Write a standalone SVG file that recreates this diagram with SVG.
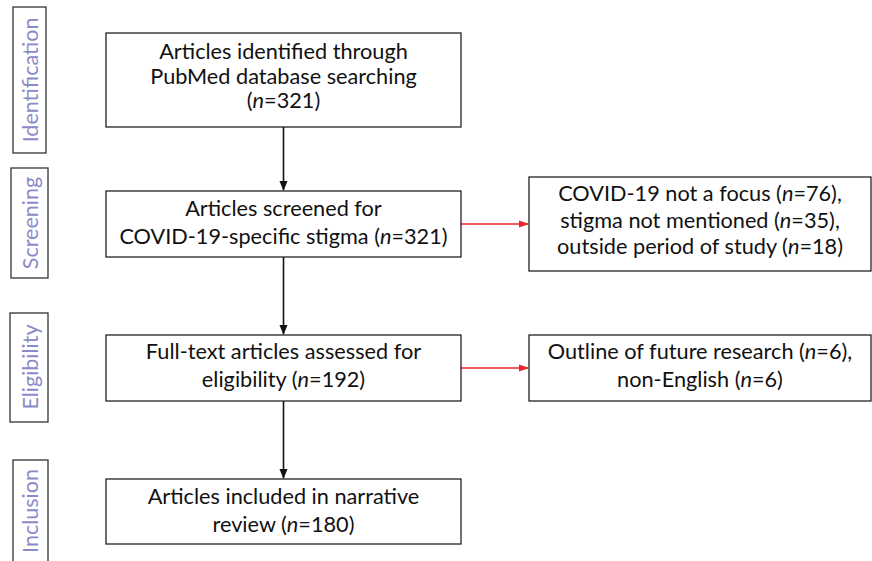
<svg xmlns="http://www.w3.org/2000/svg" width="872" height="561" viewBox="0 0 872 561">
<style>
.box{fill:#fff;stroke:#222;stroke-width:1.3}
.side{fill:#fff;stroke:#333;stroke-width:1.3}
.t{font-family:Lato,"Open Sans",sans-serif;font-size:21.7px;fill:#111;text-anchor:middle}
.s{font-family:Lato,"Open Sans",sans-serif;font-size:21.5px;fill:#8a8ac8;text-anchor:middle}
.i{font-style:italic}
.blk{stroke:#111;stroke-width:1.6;fill:none}
.red{stroke:#e8262a;stroke-width:1.6;fill:none}
</style>
<defs>
<marker id="ab" markerWidth="10" markerHeight="10" refX="9" refY="5" orient="auto" markerUnits="userSpaceOnUse"><path d="M0,1 L10,5 L0,9 Z" fill="#111"/></marker>
<marker id="ar" markerWidth="10" markerHeight="10" refX="9" refY="5" orient="auto" markerUnits="userSpaceOnUse"><path d="M0,1.5 L10,5 L0,8.5 Z" fill="#e8262a"/></marker>
</defs>
<g id="stage-identification"><rect class="side" x="13" y="7" width="33" height="146"/><text class="s" transform="translate(37.5,80) rotate(-90)">Identification</text></g>
<g id="stage-screening"><rect class="side" x="11" y="168" width="37" height="110"/><text class="s" transform="translate(37.5,223) rotate(-90)">Screening</text></g>
<g id="stage-eligibility"><rect class="side" x="10" y="313" width="38" height="109"/><text class="s" transform="translate(37.5,367) rotate(-90)">Eligibility</text></g>
<g id="stage-inclusion"><rect class="side" x="13" y="460" width="35" height="110"/><text class="s" transform="translate(37.5,511) rotate(-90)">Inclusion</text></g>
<g id="connectors">
<line class="blk" x1="283.5" y1="127" x2="283.5" y2="190" marker-end="url(#ab)"/>
<line class="blk" x1="283.5" y1="257" x2="283.5" y2="334" marker-end="url(#ab)"/>
<line class="blk" x1="283.5" y1="401" x2="283.5" y2="478" marker-end="url(#ab)"/>
<line class="red" x1="461" y1="224" x2="528" y2="224" marker-end="url(#ar)"/>
<line class="red" x1="461" y1="368" x2="528" y2="368" marker-end="url(#ar)"/>
</g>
<g id="identified"><rect class="box" x="106" y="33" width="355" height="94"/>
<text class="t" x="283.5" y="59">Articles identified through</text>
<text class="t" x="283.5" y="84">PubMed database searching</text>
<text class="t" x="283.5" y="108">(<tspan class="i">n</tspan>=321)</text></g>
<g id="screened"><rect class="box" x="106" y="191" width="355" height="66"/>
<text class="t" x="283.5" y="216">Articles screened for</text>
<text class="t" x="283.5" y="244">COVID-19-specific stigma (<tspan class="i">n</tspan>=321)</text></g>
<g id="excluded-screening"><rect class="box" x="529" y="177" width="342" height="94"/>
<text class="t" x="700" y="201">COVID-19 not a focus (<tspan class="i">n</tspan>=76),</text>
<text class="t" x="700" y="228">stigma not mentioned (<tspan class="i">n</tspan>=35),</text>
<text class="t" x="700" y="254">outside period of study (<tspan class="i">n</tspan>=18)</text></g>
<g id="assessed"><rect class="box" x="106" y="335" width="355" height="66"/>
<text class="t" x="283.5" y="359">Full-text articles assessed for</text>
<text class="t" x="283.5" y="387">eligibility (<tspan class="i">n</tspan>=192)</text></g>
<g id="excluded-eligibility"><rect class="box" x="529" y="335" width="342" height="66"/>
<text class="t" x="700" y="359">Outline of future research (<tspan class="i">n</tspan>=6),</text>
<text class="t" x="700" y="387">non-English (<tspan class="i">n</tspan>=6)</text></g>
<g id="included"><rect class="box" x="106" y="479" width="355" height="65"/>
<text class="t" x="283.5" y="504">Articles included in narrative</text>
<text class="t" x="283.5" y="532">review (<tspan class="i">n</tspan>=180)</text></g>
</svg>
